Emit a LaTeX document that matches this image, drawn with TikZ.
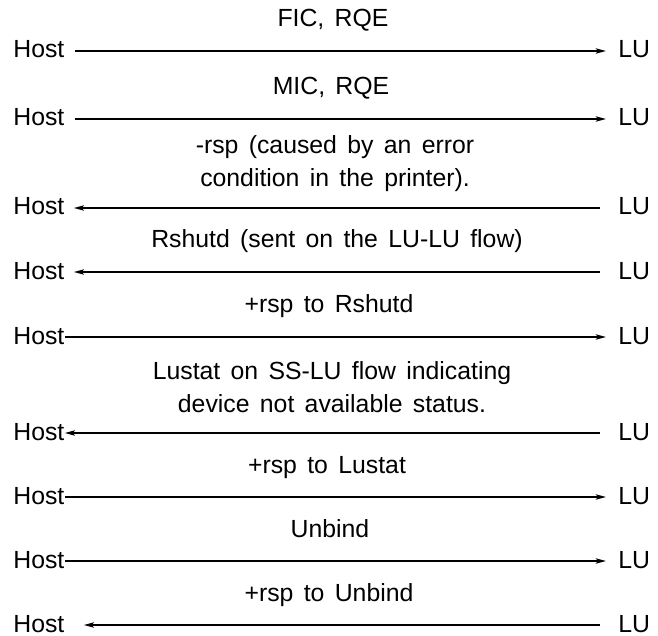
\documentclass[tikz,border=0pt]{standalone}
\usepackage{fontspec}
\setmainfont[WordSpace=1.5]{Liberation Sans}
\usetikzlibrary{arrows.meta}
\tikzset{
  endpt/.style={inner sep=0pt,anchor=base west,font=\fontsize{12.4}{16.5}\selectfont},
  msglabel/.style={inner sep=0pt,anchor=base,align=center,font=\fontsize{12.4}{16.5}\selectfont},
  msg/.style={line width=0.9pt,-{Stealth[length=5pt,width=2.6pt,inset=1pt]}},
}
% Host and LU names of one row: #1 row, #2 height of the arrow
\newcommand{\hostlu}[2]{%
  \node[endpt] (h#1) at (13,#2+7) {Host};
  \node[endpt] (l#1) at (618,#2+7) {LU};
}

\begin{document}
\begin{tikzpicture}[x=0.5pt,y=-0.5pt]
\useasboundingbox (0,0) rectangle (658,636);
\hostlu{1}{51} \hostlu{2}{119} \hostlu{3}{208} \hostlu{4}{272} \hostlu{5}{337}
\hostlu{6}{433} \hostlu{7}{497} \hostlu{8}{561} \hostlu{9}{625}

\node[msglabel] (m1) at (333,27) {FIC, RQE};
\node[msglabel] (m2) at (331,95) {MIC, RQE};
\node[msglabel] (m3) at (335,187) {-rsp (caused by an error\\condition in the printer).};
\node[msglabel] (m4) at (337,248) {Rshutd (sent on the LU-LU flow)};
\node[msglabel] (m5) at (329,312) {+rsp to Rshutd};
\node[msglabel] (m6) at (332,412) {Lustat on SS-LU flow indicating\\device not available status.};
\node[msglabel] (m7) at (327,473) {+rsp to Lustat};
\node[msglabel] (m8) at (330,537) {Unbind};
\node[msglabel] (m9) at (329,601) {+rsp to Unbind};

% host to LU
\draw[msg] ([shift={(10,-7)}]h1.base east) -- ([shift={(-12,-7)}]l1.base west);
\draw[msg] ([shift={(10,-7)}]h2.base east) -- ([shift={(-12,-7)}]l2.base west);
\draw[msg] ([shift={(0,-7)}]h5.base east) -- ([shift={(-12,-7)}]l5.base west);
\draw[msg] ([shift={(0,-7)}]h7.base east) -- ([shift={(-12,-7)}]l7.base west);
\draw[msg] ([shift={(0,-7)}]h8.base east) -- ([shift={(-12,-7)}]l8.base west);
% LU to host
\draw[msg] ([shift={(-18,-7)}]l3.base west) -- ([shift={(9,-7)}]h3.base east);
\draw[msg] ([shift={(-18,-7)}]l4.base west) -- ([shift={(9,-7)}]h4.base east);
\draw[msg] ([shift={(-18,-7)}]l6.base west) -- ([shift={(0,-7)}]h6.base east);
\draw[msg] ([shift={(-18,-7)}]l9.base west) -- ([shift={(19,-7)}]h9.base east);
\end{tikzpicture}
\end{document}
